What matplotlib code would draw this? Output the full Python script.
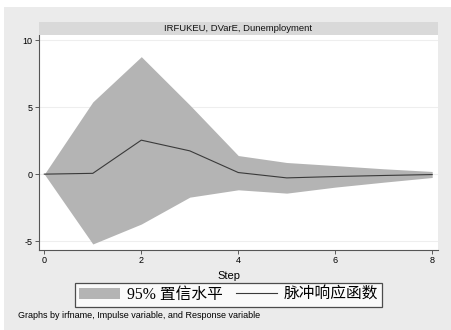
import matplotlib
matplotlib.use("Agg")
import matplotlib.pyplot as plt
from matplotlib.patches import Rectangle, Patch
from matplotlib.lines import Line2D

steps = [0, 1, 2, 3, 4, 5, 6, 7, 8]
irf = [0.0, 0.06, 2.54, 1.74, 0.12, -0.28, -0.18, -0.10, -0.03]
upper = [0.0, 5.4, 8.78, 5.17, 1.39, 0.87, 0.64, 0.40, 0.20]
lower = [0.0, -5.22, -3.73, -1.72, -1.17, -1.42, -0.97, -0.60, -0.25]
xticks = [0, 2, 4, 6, 8]
yticks = [-5, 0, 5, 10]
title = "IRFUKEU, DVarE, Dunemployment"
xlabel = "Step"
band_label = "95% 置信水平"
line_label = "脉冲响应函数"
note = "Graphs by irfname, Impulse variable, and Response variable"

W, H = 451, 330
fig = plt.figure(figsize=(W / 100, H / 100), dpi=100)
fig.patch.set_facecolor("white")
sans = ["Liberation Sans", "DejaVu Sans"]

# gray graph region
fig.add_artist(Rectangle((4 / W, 0), 1 - 4 / W, 1 - 7 / H, transform=fig.transFigure,
                         facecolor="#ebebeb", edgecolor="none", zorder=0))

ax_l, ax_r, ax_t, ax_b = 39, 438, 35, 250
ax = fig.add_axes([ax_l / W, 1 - ax_b / H, (ax_r - ax_l) / W, (ax_b - ax_t) / H])
ax.set_facecolor("white")

# strip title
fig.add_artist(Rectangle((ax_l / W, 1 - 35 / H), (ax_r - ax_l) / W, 13 / H,
                         transform=fig.transFigure, facecolor="#d9d9d9",
                         edgecolor="none", zorder=1))
fig.text((ax_l + ax_r) / 2 / W, 1 - 28.5 / H, title, ha="center", va="center",
         fontsize=6.8, family=sans, color="#111111")

for y in yticks:
    ax.axhline(y, color="#eeeeee", lw=0.8, zorder=0)

ax.fill_between(steps, lower, upper, color="#b4b4b4", lw=0, zorder=1)
ax.plot(steps, irf, color="#3a3a3a", lw=0.8, zorder=2)

ax.set_xlim(-0.11, 8.12)
ax.set_ylim(-5.67, 10.4)
ax.set_xticks(xticks)
ax.set_yticks(yticks)
ax.set_xticklabels([str(v) for v in xticks], family=sans, fontsize=6.5)
ax.set_yticklabels([str(v) for v in yticks], family=sans, fontsize=6.5)
ax.tick_params(direction="out", length=3, width=0.6, color="#444444", pad=1.5)
for s in ["top", "right"]:
    ax.spines[s].set_visible(False)
for s in ["left", "bottom"]:
    ax.spines[s].set_color("#555555")
    ax.spines[s].set_linewidth(0.8)

fig.text(229 / W, 1 - 276 / H, xlabel, ha="center", va="center", fontsize=8,
         family=sans)

handles = [Patch(facecolor="#b4b4b4", edgecolor="none"),
           Line2D([0], [0], color="#3a3a3a", lw=0.8)]
leg = fig.legend(handles, [band_label, line_label], loc="center",
                 bbox_to_anchor=(228.5 / W, 1 - 295 / H), ncol=2, frameon=True,
                 fancybox=False, prop={"family": ["Liberation Serif", "Noto Sans CJK SC"],
                                       "size": 11.3},
                 handlelength=2.6, handleheight=0.75, handletextpad=0.45,
                 columnspacing=0.85, borderpad=0.25, borderaxespad=0)
leg.get_frame().set_edgecolor("#222222")
leg.get_frame().set_linewidth(0.9)
leg.get_frame().set_facecolor("white")

fig.text(18 / W, 1 - 315 / H, note, ha="left", va="center", fontsize=6.5, family=sans)

fig.savefig("out.png", dpi=100)
